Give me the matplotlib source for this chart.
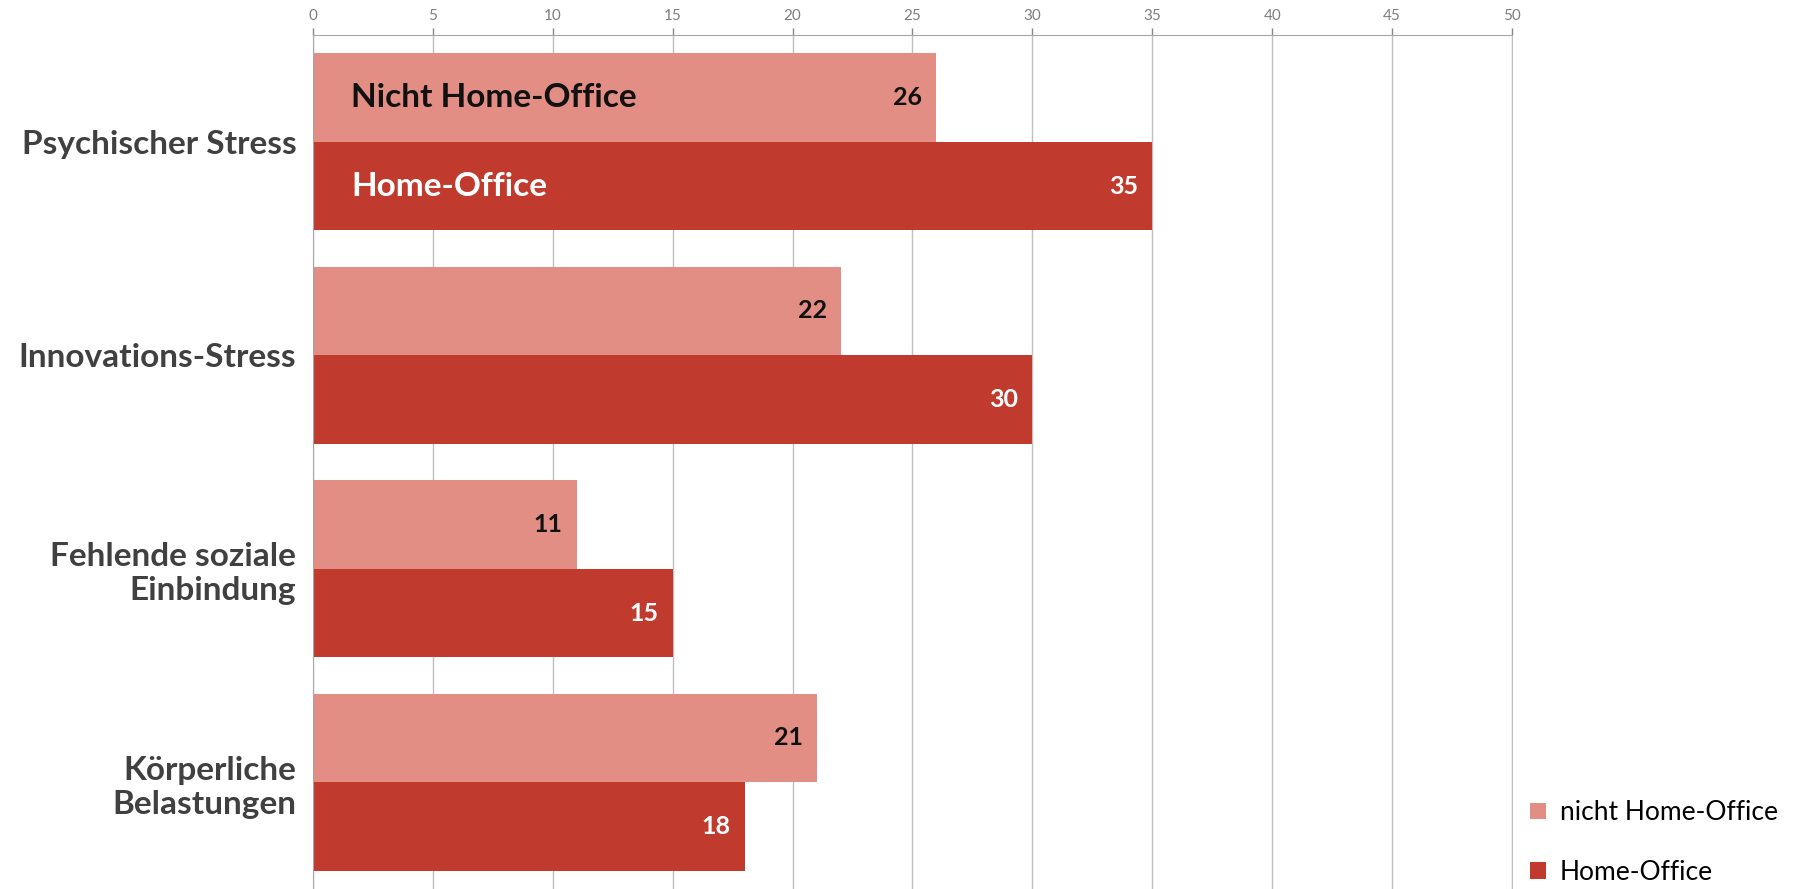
import matplotlib
matplotlib.use('Agg')
import matplotlib.pyplot as plt
import numpy as np

plt.rcParams['font.family'] = ['Lato', 'DejaVu Sans']

categories = ['Psychischer Stress', 'Innovations-Stress', 'Fehlende soziale\nEinbindung', 'Körperliche\nBelastungen']
nicht_ho = [26, 22, 11, 21]
ho = [35, 30, 15, 18]
xticks = [0, 5, 10, 15, 20, 25, 30, 35, 40, 45, 50]

C_LIGHT = '#E28E84'
C_DARK = '#C03B2D'
GRID = '#BFBFBF'

fig = plt.figure(figsize=(17.99, 8.89), dpi=100)
ax = fig.add_axes([313/1799, 0.0, (1512-313)/1799, 1-35/889])

y = np.arange(len(categories))
h = 0.415
ax.barh(y - h/2, nicht_ho, h, color=C_LIGHT, label='nicht Home-Office', zorder=2)
ax.barh(y + h/2, ho, h, color=C_DARK, label='Home-Office', zorder=2)

for i in range(len(categories)):
    ax.annotate(str(nicht_ho[i]), (nicht_ho[i], y[i] - h/2), xytext=(-14, 0), textcoords='offset pixels',
                ha='right', va='center', fontsize=18, fontweight='bold', color='#111111', zorder=3)
    ax.annotate(str(ho[i]), (ho[i], y[i] + h/2), xytext=(-14, 0), textcoords='offset pixels',
                ha='right', va='center', fontsize=18, fontweight='bold', color='white', zorder=3)

# in-bar series names on the first group
ax.annotate('Nicht Home-Office', (0, y[0] - h/2), xytext=(38, 0), textcoords='offset pixels',
            ha='left', va='center', fontsize=24, fontweight='bold', color='#111111', zorder=3)
ax.annotate('Home-Office', (0, y[0] + h/2), xytext=(38, 0), textcoords='offset pixels',
            ha='left', va='center', fontsize=24, fontweight='bold', color='white', zorder=3)

ax.set_xlim(0, 50)
ax.set_ylim(len(categories) - 0.5, -0.5)
ax.set_xticks(xticks)
ax.xaxis.tick_top()
ax.tick_params(axis='x', colors='#888888', labelsize=11, length=5, width=1, pad=4)
ax.tick_params(axis='x', labelcolor='#7f7f7f')
ax.set_yticks(y)
ax.set_yticklabels(categories, fontsize=24, fontweight='bold', color='#404040', ha='right')
ax.tick_params(axis='y', length=0, pad=12)
ax.grid(axis='x', color=GRID, lw=1, zorder=0)
ax.set_axisbelow(True)
ax.spines['bottom'].set_visible(False)
ax.spines['right'].set_color(GRID)
ax.spines['top'].set_color('#A6A6A6')
ax.spines['left'].set_color('#A6A6A6')

leg = fig.legend(loc='lower left', bbox_to_anchor=(1512/1799, -14/889), frameon=False, fontsize=19,
                 handlelength=0.6, handleheight=0.6, handletextpad=0.5, labelspacing=1.3,
                 borderaxespad=0.3)

fig.savefig('out.png', dpi=100)
